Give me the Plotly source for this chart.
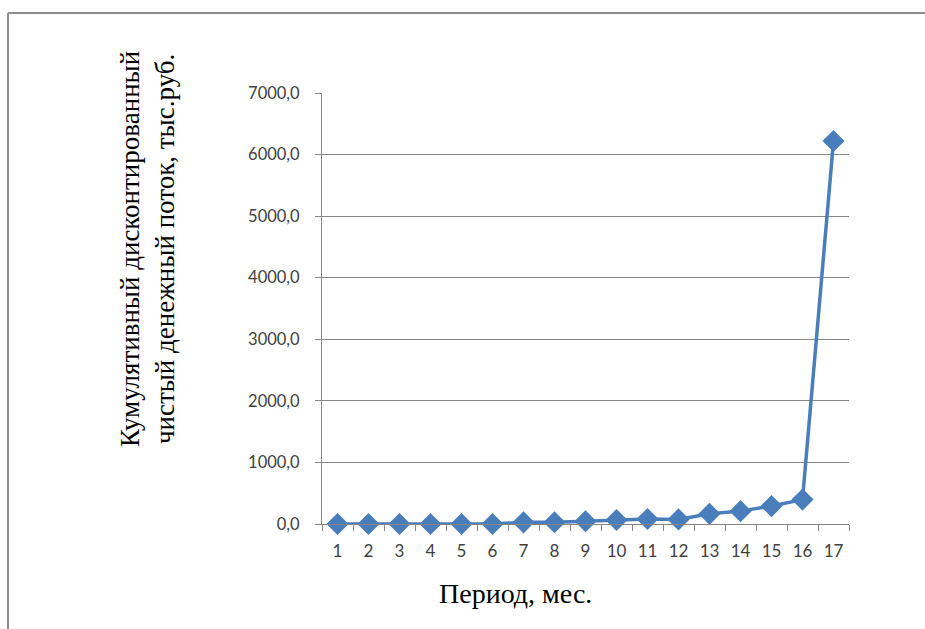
import plotly.graph_objects as go

periods = [str(i) for i in range(1, 18)]
values = [0, 0, 0, 0, 0, 0, 27, 28, 44, 66, 80, 75, 165, 209, 291, 396, 6220]
y_ticks = [0, 1000, 2000, 3000, 4000, 5000, 6000, 7000]

W, H = 925, 629
L, R, T, B = 322, 849, 93, 524


def px(x):
    return (x - L) / (R - L)


def py(y):
    return (B - y) / (B - T)


fig = go.Figure()
fig.add_trace(go.Scatter(
    x=periods, y=values, mode="lines+markers",
    line=dict(color="#4a7ebb", width=3.5),
    marker=dict(symbol="diamond", size=17, color="#4a7ebb"),
    showlegend=False, cliponaxis=False,
))

tick_font = dict(family="Lato, Open Sans, sans-serif", size=17, color="#404040")
ytick_font = dict(family="Lato, Open Sans, sans-serif", size=16.5, color="#404040")
serif = "Liberation Serif, Times New Roman, serif"

fig.update_layout(
    width=W, height=H,
    margin=dict(l=L, r=W - R, t=T, b=H - B),
    paper_bgcolor="white", plot_bgcolor="white",
    separators=", ",
    xaxis=dict(
        type="category", tickmode="array", tickvals=periods, ticktext=periods,
        showgrid=False, showline=True, linecolor="#868686", linewidth=1,
        ticks="outside", ticklen=6, tickcolor="#868686", tickson="boundaries",
        tickfont=tick_font, ticklabelstandoff=12,
        range=[-0.5, 16.5],
    ),
    yaxis=dict(
        range=[0, 7000], tickvals=y_ticks, tickformat=".1f",
        showgrid=True, gridcolor="#868686", gridwidth=1,
        showline=True, linecolor="#868686", linewidth=1,
        ticks="outside", ticklen=6, tickcolor="#868686",
        zeroline=False, tickfont=ytick_font, ticklabelstandoff=12,
    ),
    annotations=[
        dict(text="Период, мес.", xref="paper", yref="paper",
             x=px(515), y=py(593), xanchor="center", yanchor="middle",
             showarrow=False,
             font=dict(family=serif, size=28, color="black")),
        dict(text="Кумулятивный дисконтированный<br>чистый денежный поток, тыс.руб.",
             xref="paper", yref="paper", x=px(147), y=py(249),
             xanchor="center", yanchor="middle", showarrow=False,
             textangle=-90,
             font=dict(family=serif, size=27, color="black")),
    ],
    shapes=[
        dict(type="line", xref="paper", yref="paper", x0=px(8), x1=px(925), y0=py(13), y1=py(13),
             line=dict(color="#8c8c8c", width=2)),
        dict(type="line", xref="paper", yref="paper", x0=px(8), x1=px(8), y0=py(13), y1=py(629),
             line=dict(color="#8c8c8c", width=2)),
    ],
)

fig.write_html("out.html")
